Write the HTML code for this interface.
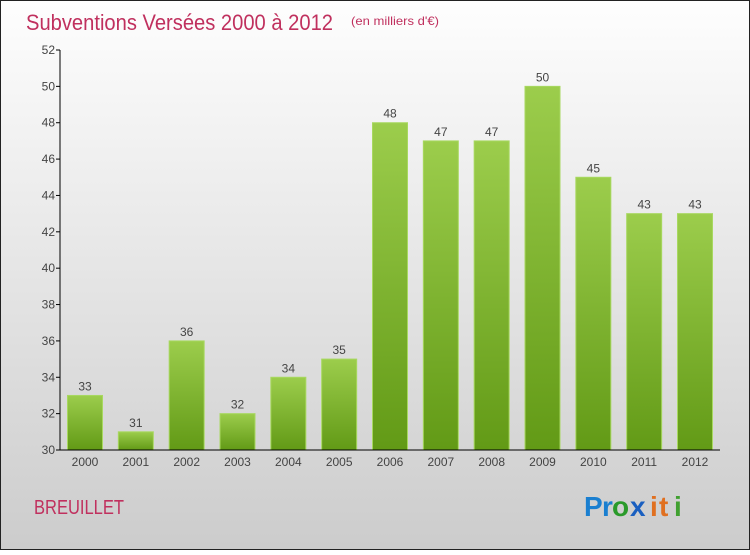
<!DOCTYPE html>
<html><head><meta charset="utf-8"><style>
html,body{margin:0;padding:0;}
body{width:750px;height:550px;overflow:hidden;font-family:"Liberation Sans",sans-serif;}
</style></head><body>
<svg id="chart" width="750" height="550" xmlns="http://www.w3.org/2000/svg">
<defs>
<linearGradient id="bg" x1="0" y1="0" x2="0" y2="1"><stop offset="0" stop-color="#fefefe"/><stop offset="1" stop-color="#cccccc"/></linearGradient>
<linearGradient id="bar" x1="0" y1="0" x2="0" y2="1"><stop offset="0" stop-color="#9ccd4c"/><stop offset="1" stop-color="#629a16"/></linearGradient>
</defs>
<rect x="0.5" y="0.5" width="749" height="549" fill="url(#bg)" stroke="#222" stroke-width="1"/>
<text x="26" y="30" font-size="22" fill="#c0305e" textLength="307" lengthAdjust="spacingAndGlyphs">Subventions Versées 2000 à 2012</text>
<text x="351" y="25" font-size="12" fill="#c0305e" textLength="88" lengthAdjust="spacingAndGlyphs">(en milliers d'€)</text>
<g id="plot"></g>
<text x="34" y="514" font-size="20" fill="#c0305e" textLength="90" lengthAdjust="spacingAndGlyphs">BREUILLET</text>
<g font-size="28" font-weight="bold">
<text x="584" y="516" fill="#1a7fd0">P</text><text x="602" y="516" fill="#1a7fd0">r</text><text x="612" y="516" fill="#2a9a2a">o</text><text x="630" y="516" fill="#1a5fc0">x</text><text x="650" y="516" fill="#e07020">i</text><text x="659" y="516" fill="#e07020">t</text><text x="674" y="516" fill="#40a030">i</text>
</g>
</svg>
<script>
const years=["2000","2001","2002","2003","2004","2005","2006","2007","2008","2009","2010","2011","2012"];
const values=[33,31,36,32,34,35,48,47,47,50,45,43,43];
const yTicks=[30,32,34,36,38,40,42,44,46,48,50,52];
const NS="http://www.w3.org/2000/svg";
const g=document.getElementById("plot");
const x0=60,x1=720,yTop=50,yBot=450,vMin=30,vMax=52;
const y=v=>yBot-(v-vMin)/(vMax-vMin)*(yBot-yTop);
const step=(695-85)/12;
const xc=i=>85+i*step;
function mk(t,a){const e=document.createElementNS(NS,t);for(const k in a)e.setAttribute(k,a[k]);g.appendChild(e);return e;}
yTicks.forEach(v=>{
  const l=mk("line",{x1:x0-4,x2:x0,y1:y(v),y2:y(v),stroke:"#000"});
  
  
  const t=mk("text",{x:x0-5,y:y(v)+4,"text-anchor":"end","font-size":"12",fill:"#444"});
  t.textContent=v;
  
  
});
values.forEach((v,i)=>{
  const r=mk("rect",{x:xc(i)-17.5,y:y(v),width:35,height:yBot-y(v),fill:"url(#bar)",stroke:"#a8d860","stroke-width":"1"});
  
  
  const t=mk("text",{x:xc(i),y:y(v)-5,"text-anchor":"middle","font-size":"12",fill:"#444"});
  t.textContent=v;
  
  
  const yl=mk("text",{x:xc(i),y:466,"text-anchor":"middle","font-size":"12",fill:"#444"});
  yl.textContent=years[i];
  
  
});
const ya=mk("line",{x1:x0,x2:x0,y1:yTop,y2:yBot,stroke:"#000"});


const xa=mk("line",{x1:x0,x2:x1,y1:yBot,y2:yBot,stroke:"#000"});


</script>
</body></html>
